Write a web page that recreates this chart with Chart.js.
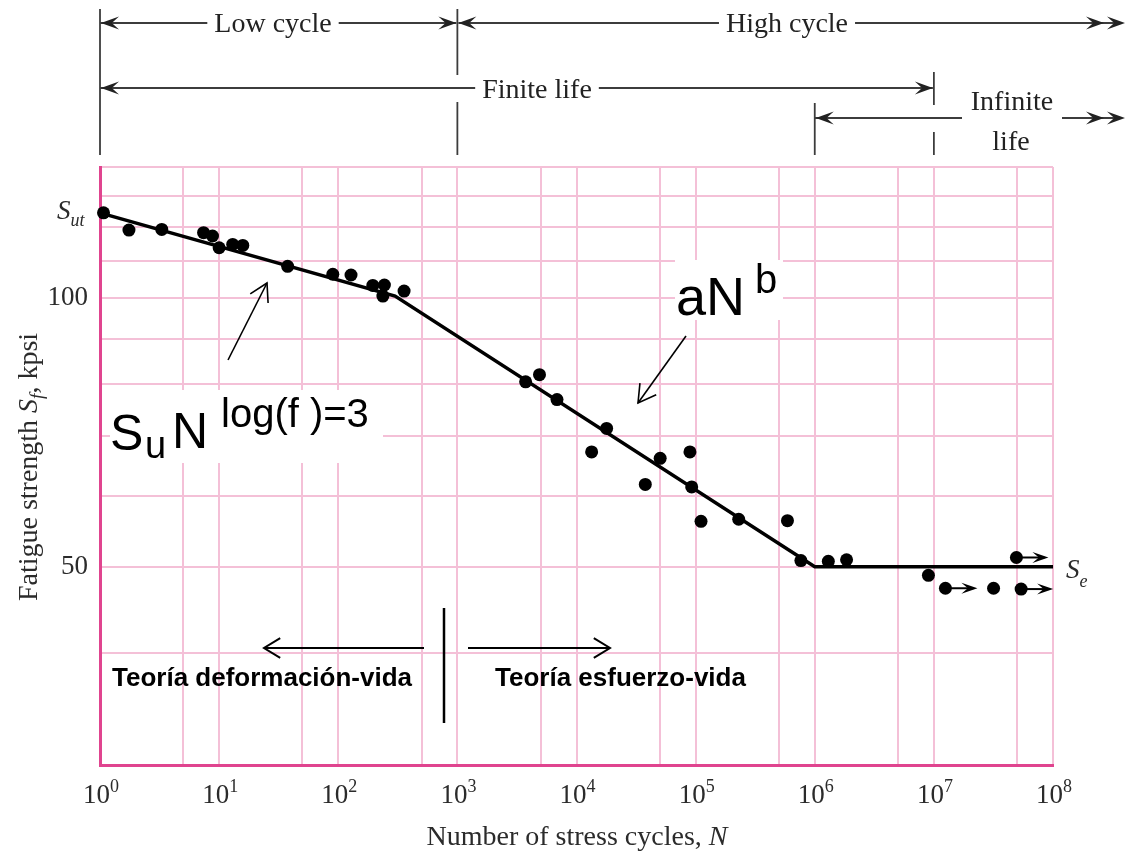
<!DOCTYPE html>
<html>
<head>
<meta charset="utf-8">
<script src="https://cdn.jsdelivr.net/npm/chart.js@4.4.1/dist/chart.umd.min.js"></script>
<style>
  html, body { margin: 0; padding: 0; background: #fff; }
  canvas { display: block; }
</style>
</head>
<body>
<canvas id="myChart" width="1126" height="851"></canvas>
<script>
var ctx = document.getElementById("myChart").getContext('2d');

// test points (cycles, kpsi)
const cyclesN = [1.07, 1.75, 3.3, 7.4, 8.8, 10, 13, 15.8, 37.6, 90, 128, 195, 244, 237, 357,
    3740, 4890, 6860, 17900, 13400, 50400, 89600, 37800, 92700, 111000, 230000, 590000, 765000,
    1.3e6, 1.85e6, 9.0e6, 1.25e7, 3.17e7, 5.4e7, 4.93e7];
const strengthS = [124.4, 119, 119.2, 118.2, 117.2, 113.7, 114.7, 114.4, 108.4, 106.2, 106, 103.2, 103.3, 100.4, 101.7,
    80.5, 82, 76.9, 71.4, 67.2, 66.1, 67.2, 61.8, 61.4, 56.2, 56.5, 56.3, 50.8,
    50.7, 50.9, 48.9, 47.3, 47.3, 47.2, 51.2];
// indices of run-outs (specimens that did not fail)
const runoutPts = [31, 33, 34];

// S-N line: Sut at N=1, knee, endurance limit Se
const curveN = [1, 300, 1e6, 1e8];
const curveS = [124.4, 100.4, 50, 50];

const xGrid = [1, 5, 10, 50, 1e2, 5e2, 1e3, 5e3, 1e4, 5e4, 1e5, 5e5, 1e6, 5e6, 1e7, 5e7, 1e8];
const yGrid = [30, 40, 50, 60, 70, 80, 90, 100, 110, 120, 130, 140];
const xExponents = [0, 1, 2, 3, 4, 5, 6, 7, 8];
const yLabels = [50, 100];
const sut = 124.4;
const se = 50;

const gridPink = '#f4c0d7';
const axisPink = '#e0448f';
const serif = '"Liberation Serif", "Times New Roman", serif';
const sans = '"Liberation Sans", Arial, sans-serif';

function line(c, x1, y1, x2, y2) {
    c.beginPath();
    c.moveTo(x1, y1);
    c.lineTo(x2, y2);
    c.stroke();
}

// filled notched arrow head, tip at (x, y), dir 1 = right, -1 = left
function stealth(c, x, y, dir, len, half) {
    c.beginPath();
    c.moveTo(x, y);
    c.lineTo(x - dir * len, y - half);
    c.lineTo(x - dir * len * 0.6, y);
    c.lineTo(x - dir * len, y + half);
    c.closePath();
    c.fill();
}

// open "V" arrow head at tip (tx, ty), line coming from (fx, fy)
function openHead(c, tx, ty, fx, fy, len, ang) {
    const a = Math.atan2(fy - ty, fx - tx);
    c.beginPath();
    c.moveTo(tx + len * Math.cos(a + ang), ty + len * Math.sin(a + ang));
    c.lineTo(tx, ty);
    c.lineTo(tx + len * Math.cos(a - ang), ty + len * Math.sin(a - ang));
    c.stroke();
}

function runWidth(c, parts) {
    let w = 0;
    parts.forEach(p => { c.font = p.font; w += c.measureText(p.t).width; });
    return w;
}

function drawRuns(c, parts, x, y) {
    parts.forEach(p => {
        c.font = p.font;
        c.fillText(p.t, x, y + (p.dy || 0));
        x += c.measureText(p.t).width;
    });
}

const annotations = {
    id: 'annotations',
    afterDraw(chart) {
        const c = chart.ctx;
        const xs = chart.scales.x;
        const ys = chart.scales.y;
        c.save();
        c.textAlign = 'left';
        c.textBaseline = 'alphabetic';

        // --- regime brackets above the plot ---
        const x0 = xs.getPixelForValue(1);
        const x3 = xs.getPixelForValue(1e3);
        const x6 = xs.getPixelForValue(1e6);
        const x7 = xs.getPixelForValue(1e7);
        c.strokeStyle = '#3c3c3c';
        c.fillStyle = '#222';
        c.lineWidth = 1.8;
        line(c, x0, 9, x0, 155);
        line(c, x3, 9, x3, 75);
        line(c, x3, 102, x3, 155);
        line(c, x6, 103, x6, 155);
        line(c, x7, 72, x7, 105);
        line(c, x7, 132, x7, 155);

        const hl = 18, hh = 6.5;
        c.font = '28px ' + serif;
        let w = c.measureText('Low cycle').width;
        let cx = 273;
        c.fillText('Low cycle', cx - w / 2, 32);
        line(c, x0, 23, cx - w / 2 - 7, 23);
        stealth(c, x0 + 1, 23, -1, hl, hh);
        line(c, cx + w / 2 + 7, 23, x3 - 1, 23);
        stealth(c, x3 - 1, 23, 1, hl, hh);

        w = c.measureText('High cycle').width;
        cx = 787;
        c.fillText('High cycle', cx - w / 2, 32);
        line(c, x3 + 1, 23, cx - w / 2 - 7, 23);
        stealth(c, x3 + 1, 23, -1, hl, hh);
        line(c, cx + w / 2 + 7, 23, 1122, 23);
        stealth(c, 1104, 23, 1, hl, hh);
        stealth(c, 1125, 23, 1, hl, hh);

        w = c.measureText('Finite life').width;
        cx = 537;
        c.fillText('Finite life', cx - w / 2, 98);
        line(c, x0, 88, cx - w / 2 - 7, 88);
        stealth(c, x0 + 1, 88, -1, hl, hh);
        line(c, cx + w / 2 + 7, 88, x7 - 1, 88);
        stealth(c, x7 - 1, 88, 1, hl, hh);

        line(c, x6, 118, 962, 118);
        stealth(c, x6 + 1, 118, -1, hl, hh);
        w = c.measureText('Infinite').width;
        c.fillText('Infinite', 1012 - w / 2, 110);
        w = c.measureText('life').width;
        c.fillText('life', 1011 - w / 2, 150);
        line(c, 1062, 118, 1122, 118);
        stealth(c, 1104, 118, 1, hl, hh);
        stealth(c, 1125, 118, 1, hl, hh);

        // --- axis titles ---
        c.fillStyle = '#2b2b2b';
        const yTitle = [
            { t: 'Fatigue strength ', font: '28px ' + serif },
            { t: 'S', font: 'italic 28px ' + serif },
            { t: 'f', font: 'italic 19px ' + serif, dy: 6 },
            { t: ', kpsi', font: '28px ' + serif }
        ];
        c.save();
        c.translate(27, 467);
        c.rotate(-Math.PI / 2);
        drawRuns(c, yTitle, -runWidth(c, yTitle) / 2, 10);
        c.restore();

        const xTitle = [
            { t: 'Number of stress cycles, ', font: '28px ' + serif },
            { t: 'N', font: 'italic 28px ' + serif }
        ];
        drawRuns(c, xTitle, 577 - runWidth(c, xTitle) / 2, 845);

        // --- x tick labels 10^k ---
        xExponents.forEach(k => {
            const px = xs.getPixelForValue(Math.pow(10, k));
            c.font = '27px ' + serif;
            const w1 = c.measureText('10').width;
            c.font = '18px ' + serif;
            const w2 = c.measureText(String(k)).width;
            const sx = px - (w1 + w2) / 2 + 1;
            c.font = '27px ' + serif;
            c.fillText('10', sx, 803);
            c.font = '18px ' + serif;
            c.fillText(String(k), sx + w1, 792);
        });

        // --- Sut and Se labels ---
        const ySut = ys.getPixelForValue(sut);
        drawRuns(c, [
            { t: 'S', font: 'italic 27px ' + serif },
            { t: 'ut', font: 'italic 18px ' + serif, dy: 7 }
        ], 57, ySut + 6);
        const ySe = ys.getPixelForValue(se);
        drawRuns(c, [
            { t: 'S', font: 'italic 27px ' + serif },
            { t: 'e', font: 'italic 18px ' + serif, dy: 9 }
        ], 1066, ySe + 11);

        // --- formula boxes ---
        c.fillStyle = '#fff';
        c.fillRect(110, 390, 273, 73);
        c.fillRect(675, 260, 108, 60);
        c.fillStyle = '#000';
        c.font = '50px ' + sans;
        c.fillText('S', 110, 450);
        c.font = '38px ' + sans;
        c.fillText('u', 145, 458);
        c.font = '50px ' + sans;
        c.fillText('N', 172, 448);
        c.font = '40px ' + sans;
        c.fillText('log(f )=3', 221, 427);
        c.font = '54px ' + sans;
        c.fillText('aN', 676, 315);
        c.font = '40px ' + sans;
        c.fillText('b', 755, 293);

        c.strokeStyle = '#000';
        c.lineWidth = 1.6;
        line(c, 228, 360, 267, 283);
        openHead(c, 267, 283, 228, 360, 20, Math.PI / 6);
        line(c, 686, 336, 638, 403);
        openHead(c, 638, 403, 686, 336, 20, Math.PI / 6);

        // --- strain-life / stress-life split ---
        c.lineWidth = 2.5;
        line(c, 444, 608, 444, 723);
        c.lineWidth = 2;
        line(c, 424, 648, 264, 648);
        openHead(c, 264, 648, 424, 648, 19, 0.55);
        line(c, 468, 648, 610, 648);
        openHead(c, 610, 648, 468, 648, 19, 0.55);
        c.font = 'bold 26px ' + sans;
        c.fillText('Teoría deformación-vida', 112, 686);
        c.fillText('Teoría esfuerzo-vida', 495, 686);

        // --- run-out arrows ---
        c.fillStyle = '#000';
        c.lineWidth = 2;
        runoutPts.forEach(i => {
            const px = xs.getPixelForValue(cyclesN[i]);
            const py = ys.getPixelForValue(strengthS[i]);
            line(c, px, py, px + 28, py);
            stealth(c, px + 32, py, 1, 16, 5.5);
        });

        c.restore();
    }
};

var myChart = new Chart(ctx, {
    type: 'scatter',
    data: {
        datasets: [{
            type: 'line',
            data: curveN.map((n, i) => ({ x: n, y: curveS[i] })),
            borderColor: '#000',
            borderWidth: 3.5,
            pointRadius: 0,
            fill: false,
            tension: 0,
            clip: false,
            order: 2
        },
        {
            type: 'scatter',
            data: cyclesN.map((n, i) => ({ x: n, y: strengthS[i] })),
            backgroundColor: '#000',
            borderColor: '#000',
            borderWidth: 0,
            pointRadius: 6.5,
            pointHoverRadius: 6.5,
            clip: false,
            order: 1
        }]
    },
    options: {
        responsive: false,
        animation: false,
        devicePixelRatio: 1,
        layout: { padding: { left: 0, right: 73, top: 167, bottom: 0 } },
        plugins: { legend: { display: false }, tooltip: { enabled: false } },
        scales: {
            x: {
                type: 'logarithmic',
                min: 1,
                max: 1e8,
                afterBuildTicks: s => { s.ticks = xGrid.map(v => ({ value: v })); },
                afterFit: s => { s.height = 86; },
                ticks: { display: false },
                grid: { color: gridPink, lineWidth: 2, drawTicks: false },
                border: { color: axisPink, width: 3 }
            },
            y: {
                type: 'logarithmic',
                min: 30,
                max: 140,
                afterBuildTicks: s => { s.ticks = yGrid.map(v => ({ value: v })); },
                afterFit: s => { s.width = 100; },
                ticks: {
                    callback: v => yLabels.includes(v) ? String(v) : '',
                    font: { family: serif, size: 27 },
                    color: '#2b2b2b',
                    padding: 12,
                    autoSkip: false
                },
                grid: { color: gridPink, lineWidth: 2, drawTicks: false },
                border: { color: axisPink, width: 3 }
            }
        }
    },
    plugins: [annotations]
});
</script>
</body>
</html>
